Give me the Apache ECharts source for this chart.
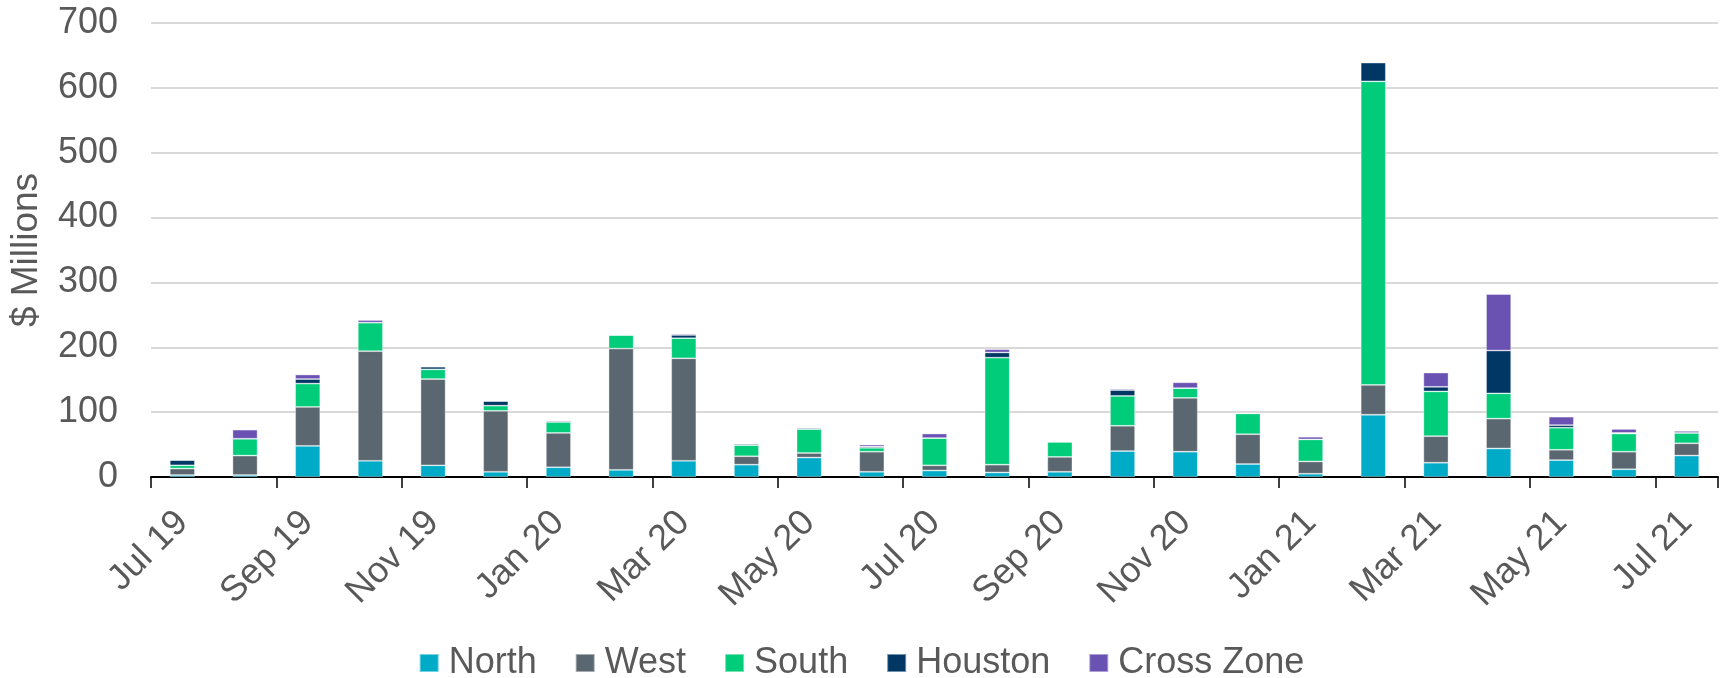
<!DOCTYPE html>
<html>
<head>
<meta charset="utf-8">
<title>Stacked bars by zone</title>
<script src="https://cdn.jsdelivr.net/npm/echarts@6/dist/echarts.min.js"></script>
<style>
  html, body { margin: 0; padding: 0; background: #fff; }
  #main { width: 1723px; height: 678px; }
</style>
</head>
<body>
<div id="main"></div>
<script>
var months = ['Jul 19', 'Aug 19', 'Sep 19', 'Oct 19', 'Nov 19', 'Dec 19',
    'Jan 20', 'Feb 20', 'Mar 20', 'Apr 20', 'May 20', 'Jun 20', 'Jul 20', 'Aug 20', 'Sep 20', 'Oct 20', 'Nov 20', 'Dec 20',
    'Jan 21', 'Feb 21', 'Mar 21', 'Apr 21', 'May 21', 'Jun 21', 'Jul 21'];

var north     = [3, 3, 48, 25, 18, 8, 15, 11, 25, 19, 30, 8, 10, 7, 8, 40, 39, 20, 5, 96, 22, 44, 26, 12, 33];
var west      = [10, 30, 60, 169, 133, 94, 53, 187, 158, 13, 7, 31, 8, 12, 23, 39, 83, 46, 19, 46, 41, 46, 16, 27, 19];
var south     = [5, 26, 36, 44, 15, 8, 17, 21, 31, 17, 37, 6, 42, 165, 23, 46, 15, 32, 34, 468, 69, 39, 34, 28, 16];
var houston   = [8, 0, 7, 0, 4, 7, 0, 0, 5, 2, 0, 2, 0, 8, 1, 9, 0, 0, 0, 29, 7, 66, 4, 1, 0];
var crossZone = [1, 14, 7, 4, 1, 1, 2, 0, 2, 1, 2, 3, 7, 5, 1, 2, 9, 1, 4, 0, 22, 87, 13, 6, 3];

var yTicks = { min: 0, max: 700, step: 100 };

var textColor = '#595959';
var fontName = 'Liberation Sans';

function barSeries(name, data, color) {
    return {
        type: 'bar',
        name: name,
        stack: 'total',
        barWidth: '40%',
        itemStyle: {
            color: color,
            borderColor: 'rgba(255,255,255,0.45)',
            borderWidth: 0.8
        },
        data: data
    };
}

var chart = echarts.init(document.getElementById('main'));
var option = {
    animation: false,
    textStyle: { fontFamily: fontName },
    grid: {
        left: 150,
        right: 5,
        top: 23,
        bottom: 201,
        containLabel: false
    },
    legend: {
        left: 'center',
        top: 640,
        itemWidth: 19,
        itemHeight: 18,
        itemGap: 38,
        icon: 'rect',
        textStyle: { color: textColor, fontSize: 36, fontFamily: fontName, padding: [0, 0, 0, 5] },
        data: ['North', 'West', 'South', 'Houston', 'Cross Zone']
    },
    xAxis: {
        type: 'category',
        data: months,
        boundaryGap: true,
        axisLine: { show: true, lineStyle: { color: '#000', width: 2 } },
        axisTick: {
            show: true,
            interval: 1,
            length: 11,
            lineStyle: { color: '#000', width: 1.5 }
        },
        axisLabel: {
            interval: 1,
            rotate: 45,
            margin: 40,
            color: textColor,
            fontSize: 36,
            fontFamily: fontName
        }
    },
    yAxis: {
        type: 'value',
        min: yTicks.min,
        max: yTicks.max,
        interval: yTicks.step,
        name: '$ Millions',
        nameLocation: 'middle',
        nameRotate: 90,
        nameGap: 106,
        nameTextStyle: { color: textColor, fontSize: 37, fontFamily: fontName },
        axisLine: { show: false },
        axisTick: { show: false },
        axisLabel: { color: textColor, fontSize: 36, margin: 33, fontFamily: fontName },
        splitLine: { lineStyle: { color: '#d9d9d9', width: 2 } }
    },
    series: [
        barSeries('North', north, '#00abc8'),
        barSeries('West', west, '#5b6770'),
        barSeries('South', south, '#00cc7a'),
        barSeries('Houston', houston, '#003764'),
        barSeries('Cross Zone', crossZone, '#6a52b3')
    ]
};
chart.setOption(option);
window.addEventListener('resize', function () {
    chart.resize();
});
</script>
</body>
</html>
